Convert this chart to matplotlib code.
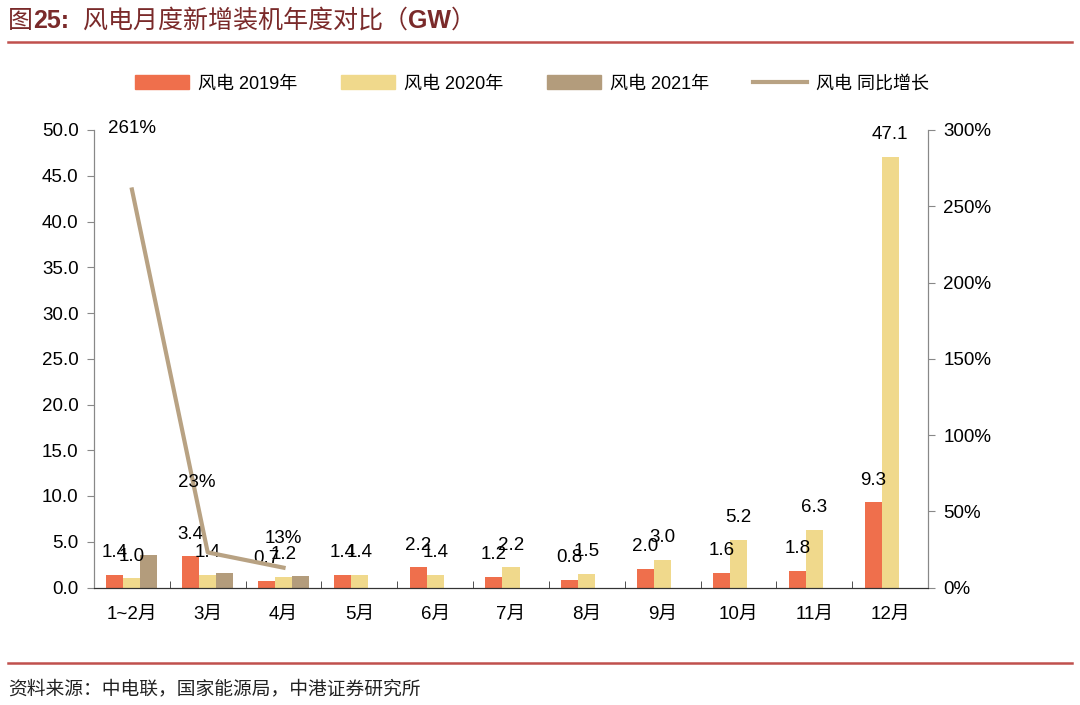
import matplotlib
matplotlib.use("Agg")
import matplotlib.pyplot as plt
import numpy as np
from matplotlib.lines import Line2D
from matplotlib.patches import Patch

plt.rcParams['font.family'] = ['Liberation Sans', 'Noto Sans CJK SC', 'DejaVu Sans']

months = ['1~2月', '3月', '4月', '5月', '6月', '7月', '8月', '9月', '10月', '11月', '12月']
wind_2019 = [1.4, 3.4, 0.7, 1.4, 2.2, 1.2, 0.8, 2.0, 1.6, 1.8, 9.3]
wind_2020 = [1.0, 1.4, 1.2, 1.4, 1.4, 2.2, 1.5, 3.0, 5.2, 6.3, 47.1]
wind_2021 = [3.5, 1.6, 1.3]
yoy_growth = [261, 23, 13]   # %
yoy_labels = ['261%', '23%', '13%']
left_ticks = [0, 5, 10, 15, 20, 25, 30, 35, 40, 45, 50]
right_ticks = [0, 50, 100, 150, 200, 250, 300]

c19 = '#EF6F4C'
c20 = '#F0D98C'
c21 = '#B39C7C'
cline = '#B8A283'
title_color = '#7A2A2A'
rule_color = '#C0504D'

fig = plt.figure(figsize=(10.8, 7.05), dpi=100)
W, H = 1080, 705
ax = fig.add_axes([94 / W, 1 - 587.5 / H, (928 - 94) / W, (587.5 - 130) / H])
ax2 = ax.twinx()

x = np.arange(len(months))
w = 0.225
ax.bar(x - w, wind_2019, w, color=c19, zorder=2)
ax.bar(x, wind_2020, w, color=c20, zorder=2)
ax.bar(x[:len(wind_2021)] + w, wind_2021, w, color=c21, zorder=2)

for xi, v in zip(x - w, wind_2019):
    ax.annotate(f'{v:.1f}', (xi, v), xytext=(0, 16), textcoords='offset points',
                ha='center', va='center', fontsize=13.5)
for xi, v in zip(x, wind_2020):
    ax.annotate(f'{v:.1f}', (xi, v), xytext=(0, 16), textcoords='offset points',
                ha='center', va='center', fontsize=13.5)

ax.set_xlim(-0.5, len(months) - 0.5)
ax.set_ylim(0, 50)
ax.set_yticks(left_ticks)
ax.set_yticklabels([f'{t:.1f}' for t in left_ticks], fontsize=13.5)
ax.set_xticks(x)
ax.set_xticklabels(months, fontsize=13.5)
ax.set_xticks(np.arange(len(months) + 1) - 0.5, minor=True)
ax.tick_params(axis='x', which='major', length=0, pad=13)
ax.tick_params(axis='x', which='minor', direction='in', length=5, color='#333333')
ax.tick_params(axis='y', direction='out', length=5, color='#888888', pad=6)

ax2.plot(x[:len(yoy_growth)], yoy_growth, color=cline, lw=3, zorder=3)
ax2.set_ylim(0, 300)
ax2.set_yticks(right_ticks)
ax2.set_yticklabels([f'{t}%' for t in right_ticks], fontsize=13.5)
ax2.tick_params(axis='y', direction='out', length=5, color='#888888', pad=6)
label_offsets = [(0, 44), (-8, 50), (0, 21)]
for xi, v, s, off in zip(x, yoy_growth, yoy_labels, label_offsets):
    ax2.annotate(s, (xi, v), xytext=off, textcoords='offset points',
                 ha='center', va='center', fontsize=13.5)

for a in (ax, ax2):
    a.spines['top'].set_visible(False)
    a.spines['left'].set_color('#888888')
    a.spines['right'].set_color('#888888')
    a.spines['bottom'].set_color('#333333')
    a.set_facecolor('none')

handles = [Patch(color=c19), Patch(color=c20), Patch(color=c21),
           Line2D([0], [0], color=cline, lw=3)]
labels = ['风电 2019年', '风电 2020年', '风电 2021年', '风电 同比增长']
fig.legend(handles, labels, loc='center', bbox_to_anchor=(532 / W, 1 - 84 / H),
           ncol=4, frameon=False, fontsize=13, handlelength=3.0, handleheight=0.8,
           columnspacing=2.4, handletextpad=0.5)

# Title
fig.canvas.draw()
renderer = fig.canvas.get_renderer()
ty = 1 - 21 / H
parts = [('图', 'normal'), ('25:', 'bold'), ('  风电月度新增装机年度对比（', 'normal'),
         ('GW', 'bold'), ('）', 'normal')]
xpos = 8
for s, wt in parts:
    t = fig.text(xpos / W, ty, s, fontsize=18, color=title_color, fontweight=wt,
                 ha='left', va='center')
    bb = t.get_window_extent(renderer)
    xpos += bb.width

fig.add_artist(Line2D([8 / W, 1072 / W], [1 - 42 / H, 1 - 42 / H], color=rule_color,
                      lw=1.8, transform=fig.transFigure))
fig.add_artist(Line2D([8 / W, 1072 / W], [1 - 663 / H, 1 - 663 / H], color=rule_color,
                      lw=1.8, transform=fig.transFigure))
fig.text(8 / W, 1 - 689 / H, '资料来源：中电联，国家能源局，中港证券研究所', fontsize=13.5,
         color='#222222', ha='left', va='center', fontstyle='italic')

fig.savefig('out.png', dpi=100)
